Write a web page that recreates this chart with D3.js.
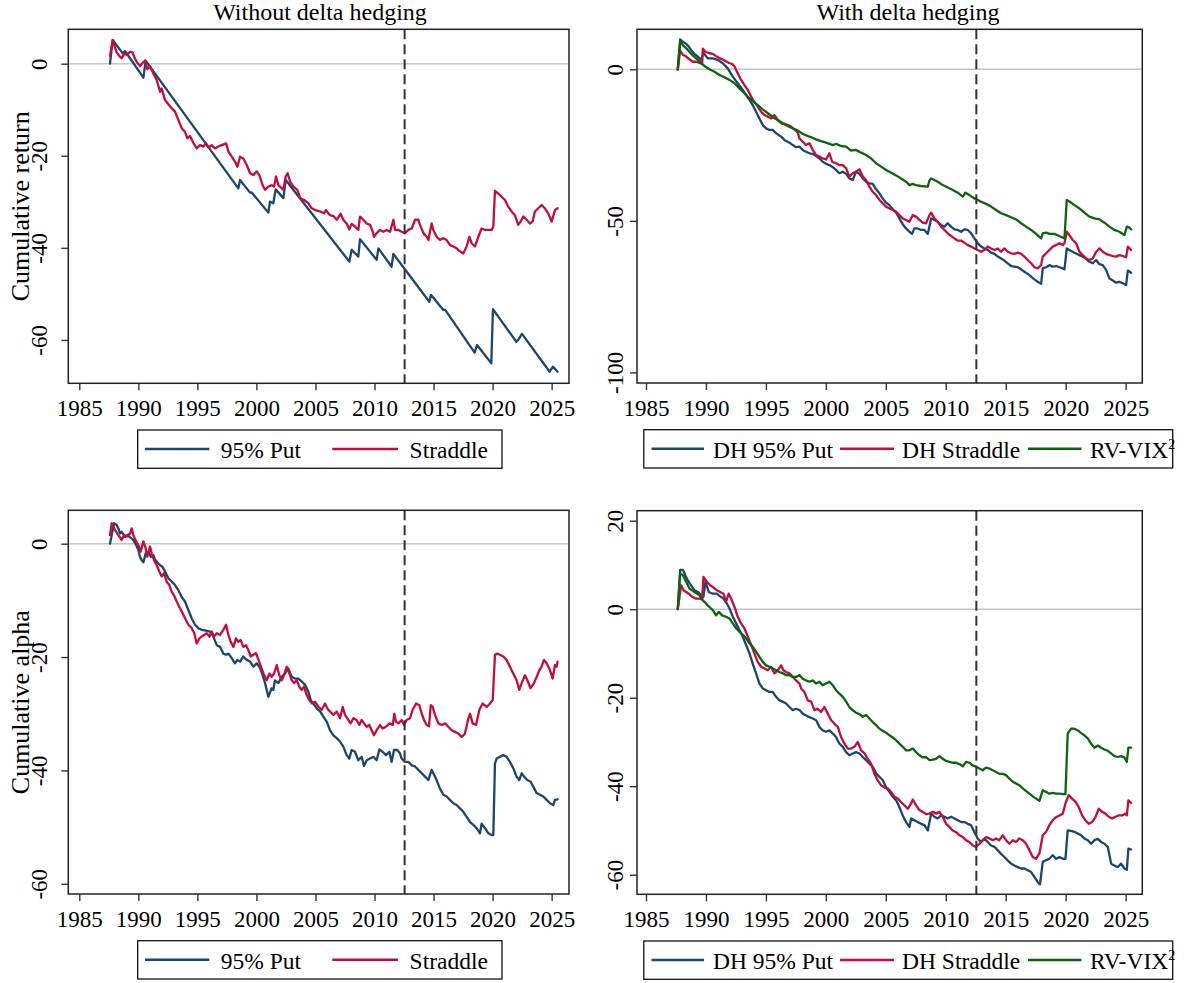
<!DOCTYPE html>
<html>
<head>
<meta charset="utf-8">
<script src="https://cdn.jsdelivr.net/npm/d3@7"></script>
<style>
  html, body { margin: 0; padding: 0; background: #fff; }
  svg text { font-family: "Liberation Serif", "Times New Roman", serif; fill: #000; }
</style>
</head>
<body>
<svg id="chart" width="1184" height="983"></svg>
<script>
// ---- data -------------------------------------------------------------
const yearTicks = [1985, 1990, 1995, 2000, 2005, 2010, 2015, 2020, 2025];
const splitYear = 2012.55;

const ticksReturnNoDH = [0, -20, -40, -60];
const ticksReturnDH = [0, -50, -100];
const ticksAlphaNoDH = [0, -20, -40, -60];
const ticksAlphaDH = [20, 0, -20, -40, -60];

// Cumulative return, no delta hedging
const put95 = [[1987.60,0],[1987.83,5.15],[1988.68,2.25],[1988.87,2.76],[1990.43,-3.04],[1990.62,0.66],[1998.47,-27.07],[1998.61,-25.27],[1999.46,-28.0],[1999.60,-27.96],[2001.01,-32.35],[2001.15,-29.96],[2001.43,-30.3],[2001.63,-27.3],[2002.28,-29.2],[2002.48,-25.26],[2007.87,-43.0],[2008.06,-40.45],[2008.63,-41.9],[2008.77,-38.1],[2010.18,-42.6],[2010.33,-40.1],[2011.45,-44.1],[2011.59,-41.3],[2014.64,-51.7],[2014.78,-50.2],[2015.83,-53.5],[2015.97,-53.4],[2018.48,-62.75],[2018.68,-61.1],[2019.89,-65.07],[2020.03,-53.3],[2022.01,-60.4],[2022.20,-59.9],[2022.49,-58.7],[2024.83,-66.9],[2025.11,-65.8],[2025.50,-66.9]];

const straddle = [[1987.60,1.7],[1987.83,5.1],[1988.17,2.4],[1988.45,1.5],[1988.59,1.2],[1988.87,2.3],[1989.01,1.9],[1989.30,2.6],[1989.52,2.4],[1989.66,1.4],[1989.86,0.4],[1990.14,-0.5],[1990.37,0.2],[1990.57,0.7],[1990.76,-1.2],[1990.99,-0.6],[1991.27,-2.1],[1991.55,-3.5],[1991.84,-6.1],[1991.98,-5.4],[1992.26,-7.9],[1992.54,-8.8],[1992.83,-9.7],[1993.11,-10.4],[1993.39,-12.2],[1993.67,-14.0],[1993.95,-14.8],[1994.15,-16.2],[1994.38,-15.7],[1994.66,-17.2],[1994.94,-18.4],[1995.22,-17.7],[1995.51,-18.0],[1995.73,-17.3],[1995.93,-18.2],[1996.21,-17.7],[1996.49,-18.4],[1996.78,-18.0],[1997.06,-17.7],[1997.43,-17.3],[1997.63,-19.1],[1997.91,-20.2],[1998.19,-21.3],[1998.39,-22.4],[1998.61,-20.2],[1998.89,-20.6],[1999.18,-22.0],[1999.46,-23.8],[1999.74,-24.2],[2000.02,-23.4],[2000.25,-24.2],[2000.53,-26.4],[2000.73,-27.4],[2001.01,-26.7],[2001.29,-26.4],[2001.49,-26.7],[2001.66,-24.5],[2001.86,-26.4],[2002.00,-26.7],[2002.28,-27.4],[2002.48,-24.5],[2002.65,-23.8],[2002.85,-25.6],[2003.13,-26.7],[2003.47,-27.4],[2003.69,-29.2],[2004.03,-29.6],[2004.40,-30.3],[2004.68,-31.4],[2004.97,-31.8],[2005.39,-32.1],[2005.72,-32.5],[2005.89,-31.8],[2006.23,-32.9],[2006.52,-33.1],[2006.80,-33.9],[2007.13,-32.6],[2007.36,-33.9],[2007.64,-34.7],[2007.87,-36.0],[2008.06,-34.8],[2008.35,-35.4],[2008.63,-36.1],[2008.77,-33.2],[2009.05,-33.9],[2009.34,-34.7],[2009.62,-35.0],[2009.85,-36.5],[2009.96,-37.6],[2010.18,-36.8],[2010.47,-36.1],[2010.75,-36.5],[2011.03,-36.1],[2011.32,-36.5],[2011.60,-33.9],[2011.74,-36.1],[2012.02,-36.1],[2012.30,-36.5],[2012.58,-36.8],[2012.87,-36.1],[2013.15,-35.8],[2013.43,-33.9],[2013.71,-33.9],[2013.91,-35.4],[2014.14,-36.8],[2014.42,-37.6],[2014.56,-38.3],[2014.84,-34.7],[2014.98,-36.1],[2015.26,-37.6],[2015.54,-38.3],[2015.83,-37.9],[2016.11,-38.3],[2016.39,-39.4],[2016.67,-39.7],[2016.95,-40.1],[2017.24,-40.8],[2017.52,-41.2],[2017.80,-39.7],[2018.03,-37.6],[2018.23,-39.0],[2018.51,-39.7],[2018.79,-37.6],[2019.07,-35.8],[2019.36,-36.1],[2019.64,-36.1],[2019.92,-36.1],[2020.06,-35.4],[2020.20,-27.6],[2020.48,-28.2],[2020.76,-28.9],[2021.05,-29.6],[2021.33,-31.1],[2021.61,-32.1],[2021.89,-32.9],[2022.17,-35.0],[2022.37,-34.3],[2022.60,-33.2],[2022.88,-33.9],[2023.16,-34.7],[2023.39,-34.3],[2023.58,-32.1],[2023.87,-31.4],[2024.15,-30.7],[2024.43,-31.4],[2024.71,-32.5],[2025.00,-34.3],[2025.28,-31.8],[2025.50,-31.4]];

// Cumulative return, delta hedged
const dhPut95 = [[1987.65,0],[1987.85,9.9],[1988.07,9.1],[1988.35,8.4],[1988.57,7.5],[1988.76,6.4],[1989.04,5.1],[1989.32,4.2],[1989.60,3.1],[1989.79,5.5],[1990.15,3.6],[1990.57,3.6],[1990.99,3.1],[1991.40,2.0],[1991.82,0.3],[1992.24,-2.4],[1992.65,-4.6],[1993.07,-6.8],[1993.35,-8.5],[1993.63,-10.1],[1993.90,-11.8],[1994.18,-14.0],[1994.46,-16.2],[1994.74,-18.4],[1995.02,-19.5],[1995.29,-20.0],[1995.57,-20.0],[1995.85,-21.1],[1996.27,-22.2],[1996.54,-23.3],[1996.96,-24.2],[1997.24,-25.0],[1997.52,-25.7],[1997.80,-25.5],[1998.07,-26.6],[1998.35,-27.2],[1998.63,-27.7],[1998.91,-27.9],[1999.19,-28.6],[1999.46,-29.4],[1999.74,-30.5],[2000.02,-31.2],[2000.30,-31.6],[2000.58,-32.3],[2000.85,-33.2],[2001.13,-34.3],[2001.41,-33.8],[2001.69,-34.5],[2001.96,-36.0],[2002.24,-36.5],[2002.52,-33.8],[2002.80,-34.5],[2003.08,-36.0],[2003.35,-37.1],[2003.63,-37.6],[2003.91,-37.8],[2004.19,-39.6],[2004.47,-40.9],[2004.74,-42.6],[2005.02,-44.0],[2005.30,-44.8],[2005.58,-46.2],[2005.86,-47.3],[2006.13,-49.2],[2006.41,-51.1],[2006.69,-52.5],[2006.97,-53.6],[2007.19,-54.3],[2007.38,-52.5],[2007.66,-52.5],[2007.94,-53.0],[2008.22,-53.0],[2008.50,-54.3],[2008.78,-49.2],[2009.05,-49.7],[2009.33,-50.3],[2009.61,-51.4],[2009.89,-51.9],[2010.16,-50.8],[2010.44,-51.9],[2010.72,-52.8],[2011.00,-53.0],[2011.28,-53.6],[2011.55,-52.8],[2011.83,-53.0],[2012.11,-54.1],[2012.39,-55.8],[2012.67,-57.4],[2012.95,-58.5],[2013.22,-59.1],[2013.50,-59.6],[2013.78,-60.5],[2014.06,-60.9],[2014.34,-61.8],[2014.61,-62.4],[2014.89,-63.1],[2015.17,-64.0],[2015.45,-64.9],[2015.72,-65.1],[2016.00,-65.3],[2016.28,-66.0],[2016.56,-66.8],[2016.84,-67.5],[2017.12,-68.4],[2017.39,-69.3],[2017.67,-70.1],[2017.95,-70.8],[2018.09,-65.7],[2018.37,-65.3],[2018.64,-64.6],[2018.92,-65.1],[2019.20,-64.9],[2019.48,-65.3],[2019.76,-65.7],[2019.90,-66.0],[2020.09,-59.1],[2020.31,-59.6],[2020.73,-60.5],[2021.15,-61.3],[2021.56,-62.1],[2021.98,-63.5],[2022.26,-64.0],[2022.54,-62.9],[2022.81,-64.3],[2023.09,-64.6],[2023.37,-66.2],[2023.65,-69.0],[2023.93,-69.7],[2024.20,-70.4],[2024.48,-70.1],[2024.76,-70.6],[2025.04,-71.2],[2025.18,-66.4],[2025.46,-67.1]];

const dhStraddle = [[1987.65,0],[1987.85,6.2],[1988.07,4.8],[1988.35,4.2],[1988.62,3.3],[1988.90,2.5],[1989.18,2.5],[1989.51,2.0],[1989.68,1.8],[1989.74,6.8],[1989.96,5.8],[1990.29,5.3],[1990.57,5.1],[1990.90,4.2],[1991.18,3.6],[1991.46,3.1],[1991.74,2.5],[1991.96,2.0],[1992.18,1.8],[1992.38,0.9],[1992.65,-1.3],[1992.93,-3.5],[1993.21,-5.2],[1993.49,-6.8],[1993.77,-9.0],[1994.04,-10.7],[1994.32,-12.3],[1994.60,-14.0],[1994.88,-15.1],[1995.16,-15.6],[1995.43,-16.2],[1995.71,-15.1],[1995.99,-16.7],[1996.27,-17.8],[1996.54,-18.0],[1996.82,-18.4],[1997.10,-18.9],[1997.38,-19.8],[1997.66,-20.9],[1997.80,-22.8],[1998.07,-23.9],[1998.35,-25.0],[1998.63,-24.4],[1998.91,-26.6],[1999.19,-28.3],[1999.46,-28.8],[1999.74,-29.4],[2000.02,-29.7],[2000.30,-27.7],[2000.52,-30.5],[2000.85,-31.0],[2001.13,-31.6],[2001.41,-31.6],[2001.69,-32.7],[2001.96,-35.4],[2002.24,-34.3],[2002.52,-33.8],[2002.80,-33.0],[2003.08,-35.4],[2003.35,-36.5],[2003.63,-38.7],[2003.91,-40.4],[2004.19,-41.5],[2004.47,-43.1],[2004.74,-44.2],[2005.02,-45.3],[2005.30,-45.9],[2005.58,-46.4],[2005.86,-47.0],[2006.13,-48.1],[2006.41,-49.2],[2006.69,-49.7],[2006.97,-50.3],[2007.25,-48.1],[2007.52,-48.6],[2007.80,-49.7],[2008.08,-50.6],[2008.36,-50.8],[2008.64,-48.1],[2008.78,-47.3],[2009.05,-49.2],[2009.33,-50.3],[2009.61,-51.9],[2009.89,-53.0],[2010.16,-54.1],[2010.44,-55.0],[2010.72,-55.8],[2011.00,-56.5],[2011.28,-56.5],[2011.55,-57.2],[2011.83,-58.0],[2012.11,-58.5],[2012.39,-59.1],[2012.67,-59.6],[2012.95,-60.2],[2013.22,-59.6],[2013.50,-58.5],[2013.78,-59.1],[2014.06,-59.6],[2014.34,-59.1],[2014.61,-60.2],[2014.89,-59.1],[2015.17,-60.2],[2015.45,-60.7],[2015.72,-60.9],[2016.00,-60.5],[2016.28,-60.9],[2016.56,-61.8],[2016.84,-62.9],[2017.12,-64.0],[2017.39,-65.3],[2017.67,-65.7],[2017.95,-64.6],[2018.09,-61.8],[2018.37,-60.7],[2018.64,-59.6],[2018.92,-58.5],[2019.20,-58.0],[2019.48,-57.4],[2019.76,-58.0],[2019.90,-57.4],[2020.09,-53.6],[2020.31,-54.7],[2020.59,-56.3],[2020.87,-57.4],[2021.15,-60.2],[2021.42,-61.3],[2021.70,-62.4],[2021.98,-62.9],[2022.26,-62.4],[2022.54,-60.2],[2022.81,-59.1],[2023.09,-60.2],[2023.37,-60.9],[2023.65,-61.3],[2023.93,-61.6],[2024.20,-61.8],[2024.48,-61.3],[2024.76,-61.6],[2025.04,-62.0],[2025.18,-58.5],[2025.46,-59.6]];

const rvVix2 = [[1987.65,0],[1987.85,9.1],[1988.07,8.0],[1988.49,6.4],[1988.90,4.6],[1989.32,3.1],[1989.60,2.0],[1989.87,1.1],[1990.29,0],[1990.71,-0.8],[1991.13,-1.9],[1991.54,-2.6],[1991.96,-3.5],[1992.38,-4.6],[1992.79,-6.3],[1993.21,-7.9],[1993.63,-9.6],[1993.96,-10.7],[1994.32,-11.8],[1994.74,-13.2],[1995.16,-14.5],[1995.57,-15.8],[1995.99,-16.7],[1996.41,-17.8],[1996.82,-18.7],[1997.24,-19.5],[1997.66,-20.2],[1998.07,-21.3],[1998.49,-22.0],[1998.77,-22.4],[1999.19,-23.1],[1999.60,-23.7],[2000.02,-24.2],[2000.30,-24.6],[2000.58,-25.0],[2000.85,-24.6],[2001.27,-25.3],[2001.69,-25.5],[2002.10,-26.8],[2002.52,-26.6],[2002.94,-27.5],[2003.35,-28.3],[2003.77,-29.4],[2004.19,-31.0],[2004.61,-32.1],[2005.02,-33.2],[2005.44,-34.1],[2005.86,-35.0],[2006.27,-36.0],[2006.69,-37.1],[2006.97,-38.2],[2007.25,-37.8],[2007.52,-38.2],[2007.94,-38.5],[2008.50,-38.7],[2008.64,-36.7],[2008.78,-36.0],[2009.05,-36.5],[2009.33,-37.1],[2009.75,-38.2],[2010.16,-39.0],[2010.58,-39.8],[2011.00,-40.7],[2011.42,-42.0],[2011.64,-40.7],[2011.97,-41.5],[2012.39,-42.6],[2012.67,-43.1],[2012.95,-43.7],[2013.36,-44.4],[2013.78,-45.3],[2014.20,-46.4],[2014.61,-47.5],[2015.03,-48.1],[2015.45,-48.8],[2015.86,-49.5],[2016.28,-50.8],[2016.70,-51.9],[2017.12,-53.0],[2017.53,-54.3],[2017.95,-55.8],[2018.09,-54.1],[2018.37,-53.9],[2018.64,-54.3],[2019.06,-54.3],[2019.48,-55.0],[2019.90,-55.8],[2020.09,-43.1],[2020.31,-43.6],[2020.73,-44.8],[2021.15,-45.9],[2021.56,-47.3],[2021.98,-48.6],[2022.40,-49.2],[2022.81,-49.5],[2023.23,-50.6],[2023.65,-51.9],[2024.06,-53.0],[2024.48,-53.6],[2024.90,-54.7],[2025.10,-51.9],[2025.26,-52.1],[2025.46,-52.8]];

// Cumulative alpha, no delta hedging
const put95Alpha = [[1987.60,0],[1987.94,3.6],[1988.17,3.3],[1988.31,2.7],[1988.45,1.8],[1988.59,2.1],[1988.87,1.2],[1989.16,1.4],[1989.44,0.9],[1989.58,0.65],[1989.81,-0.2],[1990.00,-1.1],[1990.14,-2.3],[1990.28,-2.9],[1990.43,-3.3],[1990.62,-1.7],[1990.85,-1.4],[1991.05,-2.3],[1991.27,-2.0],[1991.41,-2.8],[1991.70,-3.5],[1991.84,-3.8],[1992.06,-4.1],[1992.26,-4.9],[1992.54,-6.1],[1992.83,-6.7],[1993.11,-7.3],[1993.39,-8.2],[1993.67,-9.4],[1993.95,-10.2],[1994.24,-11.7],[1994.52,-13.2],[1994.80,-14.3],[1995.08,-14.9],[1995.36,-15.2],[1995.65,-15.3],[1996.07,-15.5],[1996.35,-16.4],[1996.64,-17.9],[1996.92,-18.2],[1997.20,-19.4],[1997.43,-19.6],[1997.63,-19.4],[1997.91,-20.2],[1998.19,-21.1],[1998.39,-20.5],[1998.61,-20.8],[1998.89,-19.9],[1999.18,-20.5],[1999.46,-20.8],[1999.74,-21.7],[2000.02,-21.1],[2000.25,-21.7],[2000.53,-23.2],[2000.73,-24.6],[2001.01,-27.0],[2001.29,-25.5],[2001.43,-25.8],[2001.57,-24.1],[2001.86,-24.6],[2002.14,-23.5],[2002.42,-22.9],[2002.70,-22.0],[2002.99,-23.5],[2003.27,-23.8],[2003.55,-23.8],[2003.83,-24.3],[2004.12,-24.9],[2004.40,-26.1],[2004.60,-27.6],[2004.82,-28.2],[2005.11,-29.1],[2005.39,-29.6],[2005.67,-30.5],[2005.95,-31.4],[2006.23,-32.9],[2006.52,-33.8],[2006.80,-34.3],[2007.08,-34.9],[2007.36,-35.8],[2007.64,-37.3],[2007.87,-37.9],[2008.06,-36.4],[2008.35,-36.7],[2008.63,-38.2],[2008.91,-37.6],[2009.11,-39.2],[2009.34,-38.2],[2009.62,-37.9],[2009.90,-37.6],[2010.18,-38.2],[2010.41,-36.3],[2010.69,-36.7],[2010.97,-37.3],[2011.26,-36.7],[2011.45,-38.5],[2011.65,-36.4],[2011.93,-36.4],[2012.16,-37.0],[2012.30,-37.9],[2012.58,-38.5],[2012.87,-38.5],[2013.15,-39.1],[2013.43,-39.3],[2013.71,-39.9],[2014.00,-40.5],[2014.28,-41.1],[2014.56,-41.7],[2014.84,-39.9],[2014.98,-40.5],[2015.26,-41.7],[2015.54,-43.2],[2015.83,-44.3],[2016.11,-44.6],[2016.39,-45.2],[2016.67,-45.8],[2016.95,-46.1],[2017.24,-46.7],[2017.52,-47.3],[2017.80,-48.2],[2018.09,-49.1],[2018.37,-49.6],[2018.65,-50.2],[2018.93,-51.1],[2019.07,-49.4],[2019.36,-50.2],[2019.64,-51.1],[2019.92,-51.4],[2020.06,-51.4],[2020.20,-38.8],[2020.34,-37.9],[2020.62,-37.6],[2020.91,-37.3],[2021.19,-37.6],[2021.47,-38.5],[2021.75,-39.6],[2022.03,-41.1],[2022.26,-41.7],[2022.46,-40.5],[2022.66,-41.1],[2022.94,-41.7],[2023.22,-42.0],[2023.45,-42.9],[2023.73,-44.0],[2024.01,-44.3],[2024.29,-44.6],[2024.58,-45.2],[2024.86,-45.8],[2025.14,-46.1],[2025.28,-45.2],[2025.50,-45.1]];

const straddleAlpha = [[1987.60,1.5],[1987.75,3.6],[1987.89,3.0],[1988.03,2.4],[1988.31,1.5],[1988.59,0.65],[1988.79,1.5],[1989.01,1.4],[1989.30,1.8],[1989.44,2.7],[1989.58,1.5],[1989.81,0.4],[1990.00,-0.2],[1990.20,-1.4],[1990.43,0.4],[1990.62,-0.8],[1990.76,-2.3],[1990.99,-0.5],[1991.13,-1.7],[1991.33,-2.9],[1991.55,-3.8],[1991.78,-4.9],[1991.98,-5.8],[1992.18,-5.2],[1992.40,-6.7],[1992.63,-7.3],[1992.83,-8.5],[1993.02,-9.1],[1993.25,-10.2],[1993.53,-11.4],[1993.76,-12.3],[1994.04,-13.5],[1994.24,-14.3],[1994.52,-14.9],[1994.74,-15.8],[1994.94,-17.6],[1995.17,-16.7],[1995.36,-16.4],[1995.56,-16.1],[1995.79,-15.8],[1996.01,-16.4],[1996.21,-15.5],[1996.41,-16.4],[1996.64,-15.8],[1996.92,-16.1],[1997.20,-15.2],[1997.43,-14.3],[1997.63,-16.1],[1997.82,-17.3],[1998.05,-18.2],[1998.27,-16.7],[1998.47,-17.3],[1998.67,-17.0],[1998.89,-18.2],[1999.12,-17.9],[1999.32,-18.8],[1999.52,-19.9],[1999.74,-19.6],[1999.97,-19.3],[2000.17,-20.5],[2000.39,-21.7],[2000.59,-22.9],[2000.87,-24.1],[2001.10,-22.9],[2001.29,-23.5],[2001.49,-22.9],[2001.72,-21.4],[2001.94,-23.2],[2002.14,-24.1],[2002.34,-23.2],[2002.56,-21.7],[2002.79,-22.9],[2002.99,-24.1],[2003.18,-24.6],[2003.41,-24.1],[2003.63,-25.2],[2003.83,-25.8],[2004.03,-25.2],[2004.26,-26.7],[2004.48,-27.6],[2004.71,-28.2],[2004.97,-27.9],[2005.25,-28.8],[2005.53,-29.3],[2005.81,-28.2],[2006.01,-29.1],[2006.23,-29.6],[2006.52,-30.2],[2006.80,-29.6],[2007.08,-30.8],[2007.31,-28.8],[2007.50,-30.2],[2007.78,-31.1],[2007.98,-31.7],[2008.21,-30.8],[2008.49,-31.1],[2008.72,-32.0],[2008.91,-31.1],[2009.11,-31.7],[2009.34,-32.3],[2009.56,-32.0],[2009.76,-32.9],[2009.96,-33.8],[2010.18,-32.9],[2010.47,-32.0],[2010.69,-32.6],[2010.97,-32.3],[2011.26,-31.7],[2011.54,-32.0],[2011.68,-30.0],[2011.82,-31.4],[2012.02,-31.7],[2012.30,-31.1],[2012.50,-32.0],[2012.72,-31.1],[2013.01,-30.8],[2013.23,-29.3],[2013.52,-28.2],[2013.80,-28.5],[2014.00,-30.0],[2014.19,-31.1],[2014.42,-32.0],[2014.62,-32.2],[2014.76,-28.5],[2014.93,-28.8],[2015.12,-30.2],[2015.41,-31.7],[2015.69,-32.0],[2015.97,-31.7],[2016.25,-32.3],[2016.53,-32.9],[2016.82,-33.2],[2017.10,-33.5],[2017.38,-34.1],[2017.66,-33.5],[2017.95,-30.8],[2018.09,-30.0],[2018.31,-31.7],[2018.60,-32.0],[2018.88,-29.3],[2019.16,-28.2],[2019.50,-28.8],[2019.78,-28.2],[2020.01,-27.6],[2020.20,-19.6],[2020.40,-19.4],[2020.62,-19.6],[2020.91,-19.9],[2021.19,-20.5],[2021.47,-21.7],[2021.75,-22.9],[2022.03,-24.1],[2022.26,-25.8],[2022.46,-24.6],[2022.74,-23.2],[2022.94,-24.1],[2023.22,-25.5],[2023.50,-24.6],[2023.73,-23.5],[2023.96,-22.3],[2024.15,-21.7],[2024.35,-20.5],[2024.58,-21.1],[2024.86,-22.3],[2025.09,-23.8],[2025.28,-21.4],[2025.42,-21.7],[2025.50,-20.8]];

// Cumulative alpha, delta hedged
const dhPut95Alpha = [[1987.65,0],[1987.85,8.9],[1988.07,8.9],[1988.29,7.6],[1988.49,6.5],[1988.76,5.4],[1989.04,4.3],[1989.32,3.9],[1989.60,3.2],[1989.79,2.8],[1989.96,6.2],[1990.24,3.9],[1990.57,3.5],[1990.90,3.5],[1991.18,2.9],[1991.46,2.4],[1991.74,1.3],[1991.96,0.2],[1992.24,-1.7],[1992.52,-3.2],[1992.79,-4.7],[1993.07,-6.2],[1993.35,-8.1],[1993.63,-10.0],[1993.90,-12.3],[1994.18,-14.5],[1994.46,-16.8],[1994.74,-17.9],[1995.02,-18.3],[1995.29,-18.7],[1995.57,-18.7],[1995.85,-19.8],[1996.13,-20.6],[1996.41,-20.9],[1996.68,-21.3],[1996.96,-22.1],[1997.24,-22.8],[1997.52,-22.5],[1997.80,-22.8],[1998.07,-23.6],[1998.35,-24.0],[1998.63,-24.4],[1998.91,-24.7],[1999.19,-25.1],[1999.46,-26.6],[1999.74,-27.4],[2000.02,-27.7],[2000.30,-27.4],[2000.58,-28.1],[2000.85,-28.9],[2001.13,-30.4],[2001.41,-31.1],[2001.69,-32.3],[2001.96,-33.0],[2002.24,-32.6],[2002.52,-32.3],[2002.80,-32.6],[2003.08,-33.4],[2003.35,-34.1],[2003.63,-34.9],[2003.91,-35.6],[2004.19,-37.1],[2004.47,-37.9],[2004.74,-38.6],[2005.02,-40.2],[2005.30,-41.3],[2005.58,-42.4],[2005.86,-43.2],[2006.13,-44.7],[2006.41,-46.6],[2006.69,-48.1],[2006.97,-49.2],[2007.11,-47.3],[2007.38,-47.7],[2007.66,-48.1],[2007.94,-48.5],[2008.22,-48.8],[2008.50,-50.0],[2008.78,-46.2],[2009.05,-46.9],[2009.33,-47.3],[2009.61,-46.6],[2009.89,-46.9],[2010.16,-47.3],[2010.44,-46.9],[2010.72,-47.3],[2011.00,-47.7],[2011.28,-48.1],[2011.55,-48.1],[2011.83,-48.5],[2012.11,-48.8],[2012.39,-50.4],[2012.67,-51.9],[2012.95,-52.6],[2013.22,-51.9],[2013.50,-52.6],[2013.78,-53.4],[2014.06,-53.7],[2014.34,-54.5],[2014.61,-55.3],[2014.89,-56.0],[2015.17,-56.8],[2015.45,-57.5],[2015.72,-57.9],[2016.00,-58.3],[2016.28,-58.6],[2016.56,-58.6],[2016.84,-59.0],[2017.12,-59.4],[2017.39,-60.5],[2017.67,-61.7],[2017.86,-62.2],[2018.09,-57.1],[2018.37,-56.7],[2018.64,-56.4],[2018.92,-55.6],[2019.20,-56.4],[2019.48,-56.0],[2019.76,-56.4],[2019.98,-56.4],[2020.17,-50.0],[2020.45,-50.1],[2020.73,-50.3],[2021.01,-50.7],[2021.29,-51.1],[2021.56,-51.8],[2021.84,-52.2],[2022.12,-53.0],[2022.40,-52.2],[2022.68,-51.9],[2022.95,-52.6],[2023.23,-53.0],[2023.51,-53.7],[2023.79,-57.5],[2024.06,-57.9],[2024.34,-58.3],[2024.62,-57.5],[2024.90,-58.6],[2025.10,-58.9],[2025.23,-54.1],[2025.46,-54.3]];

const dhStraddleAlpha = [[1987.65,0],[1987.93,5.4],[1988.13,4.3],[1988.35,3.9],[1988.57,3.5],[1988.85,2.8],[1989.13,2.4],[1989.46,2.4],[1989.68,2.2],[1989.79,7.3],[1990.07,6.2],[1990.35,5.4],[1990.63,4.9],[1990.90,4.3],[1991.18,3.9],[1991.46,3.5],[1991.68,1.7],[1991.90,3.5],[1992.10,2.4],[1992.38,0.5],[1992.65,-1.7],[1992.93,-3.2],[1993.21,-4.3],[1993.49,-6.2],[1993.77,-8.1],[1994.04,-10.0],[1994.32,-11.9],[1994.60,-13.0],[1994.88,-13.4],[1995.16,-13.8],[1995.43,-13.0],[1995.71,-14.5],[1995.99,-13.8],[1996.27,-12.7],[1996.46,-13.8],[1996.68,-14.2],[1996.96,-14.5],[1997.24,-15.3],[1997.52,-16.1],[1997.80,-16.8],[1997.94,-17.9],[1998.21,-18.7],[1998.49,-20.6],[1998.77,-20.9],[1999.05,-22.8],[1999.33,-22.5],[1999.60,-23.2],[1999.88,-22.1],[2000.16,-23.6],[2000.44,-25.1],[2000.72,-25.9],[2001.00,-26.6],[2001.27,-28.9],[2001.55,-30.4],[2001.83,-31.5],[2002.10,-31.5],[2002.38,-31.1],[2002.66,-30.0],[2002.94,-31.9],[2003.22,-32.6],[2003.49,-33.8],[2003.77,-34.9],[2004.05,-37.2],[2004.33,-38.7],[2004.61,-39.8],[2004.88,-40.3],[2005.16,-40.5],[2005.44,-41.3],[2005.72,-42.4],[2006.00,-42.8],[2006.27,-43.6],[2006.55,-44.3],[2006.83,-45.1],[2007.11,-43.9],[2007.25,-43.0],[2007.52,-44.3],[2007.80,-45.4],[2008.08,-45.8],[2008.36,-46.3],[2008.64,-46.2],[2008.91,-45.8],[2009.19,-46.2],[2009.47,-45.8],[2009.75,-46.9],[2010.03,-48.5],[2010.30,-49.2],[2010.58,-50.0],[2010.86,-50.4],[2011.14,-51.1],[2011.42,-51.5],[2011.69,-52.2],[2011.97,-52.6],[2012.25,-53.4],[2012.53,-53.7],[2012.81,-53.0],[2013.08,-52.2],[2013.36,-51.5],[2013.64,-51.8],[2013.92,-52.2],[2014.20,-51.8],[2014.47,-52.2],[2014.75,-51.1],[2015.03,-52.2],[2015.31,-53.0],[2015.59,-52.2],[2015.86,-52.6],[2016.14,-51.8],[2016.42,-52.2],[2016.70,-53.0],[2016.98,-54.5],[2017.25,-56.0],[2017.53,-56.4],[2017.81,-55.2],[2018.09,-51.1],[2018.37,-50.3],[2018.64,-48.8],[2018.92,-47.7],[2019.20,-47.0],[2019.48,-46.6],[2019.76,-46.2],[2019.98,-43.9],[2020.25,-42.0],[2020.53,-42.8],[2020.81,-43.5],[2021.09,-44.7],[2021.37,-46.6],[2021.64,-47.7],[2021.92,-48.5],[2022.20,-48.1],[2022.48,-47.0],[2022.76,-45.1],[2023.04,-45.8],[2023.32,-46.2],[2023.59,-46.9],[2023.87,-47.3],[2024.15,-46.9],[2024.43,-46.6],[2024.71,-46.6],[2024.98,-46.2],[2025.10,-46.6],[2025.23,-43.2],[2025.46,-43.8]];

const rvVix2Alpha = [[1987.65,0],[1987.85,8.1],[1988.07,7.7],[1988.35,6.2],[1988.62,4.7],[1989.04,3.9],[1989.46,3.2],[1989.74,2.0],[1990.01,1.3],[1990.29,0.5],[1990.57,-0.2],[1990.85,-1.4],[1991.07,-0.6],[1991.35,-1.4],[1991.68,-1.7],[1991.96,-2.1],[1992.24,-3.2],[1992.52,-4.3],[1992.79,-5.1],[1993.07,-5.8],[1993.35,-6.6],[1993.63,-7.7],[1993.90,-8.5],[1994.18,-9.6],[1994.46,-10.8],[1994.74,-11.9],[1995.02,-12.7],[1995.29,-13.0],[1995.57,-13.4],[1995.85,-13.8],[1996.13,-14.2],[1996.41,-14.5],[1996.68,-14.9],[1996.96,-14.9],[1997.24,-15.3],[1997.52,-15.3],[1997.80,-14.9],[1998.07,-15.7],[1998.35,-16.1],[1998.63,-16.4],[1998.91,-16.1],[1999.19,-16.8],[1999.46,-16.4],[1999.74,-17.2],[2000.02,-16.8],[2000.30,-16.4],[2000.58,-17.2],[2000.85,-18.3],[2001.13,-19.1],[2001.41,-19.8],[2001.69,-20.9],[2001.96,-22.1],[2002.24,-22.8],[2002.52,-23.4],[2002.80,-23.7],[2003.08,-24.3],[2003.35,-23.9],[2003.63,-24.7],[2003.91,-25.5],[2004.19,-26.2],[2004.47,-27.0],[2004.74,-27.5],[2005.02,-27.9],[2005.30,-28.5],[2005.58,-29.0],[2005.86,-29.6],[2006.13,-30.4],[2006.41,-31.1],[2006.69,-31.9],[2006.97,-31.9],[2007.25,-31.5],[2007.52,-32.3],[2007.80,-33.0],[2008.08,-33.5],[2008.36,-33.4],[2008.64,-34.1],[2008.91,-34.0],[2009.19,-33.8],[2009.47,-33.2],[2009.75,-33.8],[2010.03,-34.3],[2010.30,-34.5],[2010.58,-34.7],[2010.86,-34.7],[2011.14,-35.0],[2011.42,-35.5],[2011.69,-34.5],[2011.97,-34.7],[2012.25,-35.3],[2012.53,-35.6],[2012.81,-36.0],[2013.08,-36.4],[2013.36,-35.8],[2013.64,-36.0],[2013.92,-36.4],[2014.20,-36.8],[2014.47,-37.2],[2014.75,-37.2],[2015.03,-37.5],[2015.31,-38.3],[2015.59,-39.0],[2015.86,-39.4],[2016.14,-39.8],[2016.42,-40.5],[2016.70,-41.1],[2016.98,-41.7],[2017.25,-42.3],[2017.53,-42.8],[2017.81,-43.3],[2018.09,-40.9],[2018.37,-41.3],[2018.64,-41.7],[2018.92,-41.5],[2019.20,-41.7],[2019.48,-41.7],[2019.76,-41.8],[2019.98,-41.8],[2020.17,-28.1],[2020.45,-27.0],[2020.73,-27.0],[2021.01,-27.4],[2021.29,-28.0],[2021.56,-28.5],[2021.84,-29.2],[2022.12,-30.4],[2022.40,-31.3],[2022.68,-30.8],[2022.95,-31.3],[2023.23,-31.7],[2023.51,-32.0],[2023.79,-32.6],[2024.06,-33.2],[2024.34,-33.4],[2024.62,-33.2],[2024.90,-33.5],[2025.10,-34.5],[2025.23,-31.3],[2025.46,-31.3]];

// ---- styling ----------------------------------------------------------
const NAVY = "#1a476f";
const CRIMSON = "#c40d3c";
const GREEN = "#0b650b";
const FONT_TICK = 23;
const FONT_LEGEND = 23.5;
const FONT_TITLE = 24;
const FONT_YTITLE = 26;
const SERIF = '"Liberation Serif","Times New Roman",serif';

// ---- panel layout -----------------------------------------------------
const panels = [
  {
    title: "Without delta hedging", titleX: 320, ytitle: "Cumulative return",
    left: 68.3, right: 569, top: 29.3, bottom: 383.3,
    xDomain: [1984.07, 2026.47], yDomain: [-69.42, 7.47], yTicks: ticksReturnNoDH, labelGap: 21,
    series: [
      { data: put95, color: NAVY, name: "95% Put" },
      { data: straddle, color: CRIMSON, name: "Straddle" }
    ],
    legend: { x1: 137.7, x2: 502, items: [[145, 209.3, 220.7], [332.3, 398, 409.6]] }
  },
  {
    title: "With delta hedging", titleX: 908, ytitle: null,
    left: 637, right: 1142.3, top: 29.3, bottom: 383,
    xDomain: [1984.25, 2026.39], yDomain: [-103.5, 13.2], yTicks: ticksReturnDH, labelGap: 14,
    series: [
      { data: dhPut95, color: NAVY, name: "DH 95% Put" },
      { data: dhStraddle, color: CRIMSON, name: "DH Straddle" },
      { data: rvVix2, color: GREEN, name: "RV-VIX", sup: "2" }
    ],
    legend: { x1: 643.8, x2: 1172.7, items: [[651.5, 704, 713], [840, 894, 902], [1028, 1081.5, 1090]] }
  },
  {
    title: null, ytitle: "Cumulative alpha",
    left: 68.3, right: 569, top: 510.3, bottom: 894,
    xDomain: [1984.07, 2026.47], yDomain: [-61.8, 5.89], yTicks: ticksAlphaNoDH, labelGap: 21,
    series: [
      { data: put95Alpha, color: NAVY, name: "95% Put" },
      { data: straddleAlpha, color: CRIMSON, name: "Straddle" }
    ],
    legend: { x1: 137.7, x2: 502, items: [[145, 209.3, 220.7], [332.3, 398, 409.6]] }
  },
  {
    title: null, ytitle: null,
    left: 637, right: 1142.3, top: 510.7, bottom: 894.3,
    xDomain: [1984.25, 2026.39], yDomain: [-64.43, 22.26], yTicks: ticksAlphaDH, labelGap: 14,
    series: [
      { data: dhPut95Alpha, color: NAVY, name: "DH 95% Put" },
      { data: dhStraddleAlpha, color: CRIMSON, name: "DH Straddle" },
      { data: rvVix2Alpha, color: GREEN, name: "RV-VIX", sup: "2" }
    ],
    legend: { x1: 643.8, x2: 1172.7, items: [[651.5, 704, 713], [840, 894, 902], [1028, 1081.5, 1090]] }
  }
];

const svg = d3.select("#chart");
svg.append("rect").attr("width", 1184).attr("height", 983).attr("fill", "#fff");

// plain hyphen for negative tick labels
const intLabel = d => String(d);

panels.forEach(p => {
  const g = svg.append("g");
  const x = d3.scaleLinear().domain(p.xDomain).range([p.left, p.right]);
  const y = d3.scaleLinear().domain(p.yDomain).range([p.bottom, p.top]);

  // zero reference line
  g.append("line")
    .attr("x1", p.left).attr("x2", p.right)
    .attr("y1", y(0)).attr("y2", y(0))
    .attr("stroke", "#c6c6c6").attr("stroke-width", 1.6);

  // series
  const line = d3.line().x(d => x(d[0])).y(d => y(d[1]));
  p.series.forEach(s => {
    g.append("path")
      .datum(s.data)
      .attr("d", line)
      .attr("fill", "none")
      .attr("stroke", s.color)
      .attr("stroke-width", 2.3)
      .attr("stroke-linejoin", "round")
      .attr("stroke-linecap", "round");
  });

  // sample split marker
  g.append("line")
    .attr("x1", x(splitYear)).attr("x2", x(splitYear))
    .attr("y1", p.top).attr("y2", p.bottom)
    .attr("stroke", "#333").attr("stroke-width", 2)
    .attr("stroke-dasharray", "10,5");

  // plot region outline
  g.append("rect")
    .attr("x", p.left).attr("y", p.top)
    .attr("width", p.right - p.left).attr("height", p.bottom - p.top)
    .attr("fill", "none").attr("stroke", "#222").attr("stroke-width", 1.5);

  // x axis
  const xa = g.append("g")
    .attr("transform", `translate(0,${p.bottom})`)
    .call(d3.axisBottom(x).tickValues(yearTicks).tickFormat(intLabel).tickSize(7));
  xa.select(".domain").remove();
  xa.selectAll(".tick line").attr("stroke", "#333").attr("stroke-width", 1.4);
  xa.selectAll(".tick text")
    .attr("y", 33).attr("dy", 0)
    .style("font-size", FONT_TICK + "px")
    .style("font-family", SERIF)
    .attr("fill", "#000");

  // y axis with vertical labels
  const ya = g.append("g")
    .attr("transform", `translate(${p.left},0)`)
    .call(d3.axisLeft(y).tickValues(p.yTicks).tickFormat(intLabel).tickSize(7));
  ya.select(".domain").remove();
  ya.selectAll(".tick line").attr("stroke", "#333").attr("stroke-width", 1.4);
  ya.selectAll(".tick text")
    .attr("transform", "rotate(-90)")
    .attr("x", 0).attr("y", -p.labelGap).attr("dy", 0)
    .attr("text-anchor", "middle")
    .style("font-size", FONT_TICK + "px")
    .style("font-family", SERIF)
    .attr("fill", "#000");

  // y title
  if (p.ytitle) {
    g.append("text")
      .attr("transform", `translate(29,${(p.top + p.bottom) / 2}) rotate(-90)`)
      .attr("text-anchor", "middle")
      .style("font-size", FONT_YTITLE + "px")
      .text(p.ytitle);
  }

  // panel title
  if (p.title) {
    g.append("text")
      .attr("x", p.titleX).attr("y", 20)
      .attr("text-anchor", "middle")
      .style("font-size", FONT_TITLE + "px")
      .text(p.title);
  }

  // legend
  const ly = p.bottom + 46.7;
  const lg = g.append("g");
  lg.append("rect")
    .attr("x", p.legend.x1).attr("y", ly)
    .attr("width", p.legend.x2 - p.legend.x1).attr("height", 38.3)
    .attr("fill", "#fff").attr("stroke", "#111").attr("stroke-width", 1.3);
  p.series.forEach((s, i) => {
    const [a, b, t] = p.legend.items[i];
    lg.append("line")
      .attr("x1", a).attr("x2", b).attr("y1", ly + 19).attr("y2", ly + 19)
      .attr("stroke", s.color).attr("stroke-width", 2.6);
    const txt = lg.append("text")
      .attr("x", t).attr("y", ly + 28)
      .style("font-size", FONT_LEGEND + "px")
      .text(s.name);
    if (s.sup) {
      txt.append("tspan")
        .attr("dy", -9)
        .style("font-size", "14px")
        .text(s.sup);
    }
  });
});
</script>
</body>
</html>
